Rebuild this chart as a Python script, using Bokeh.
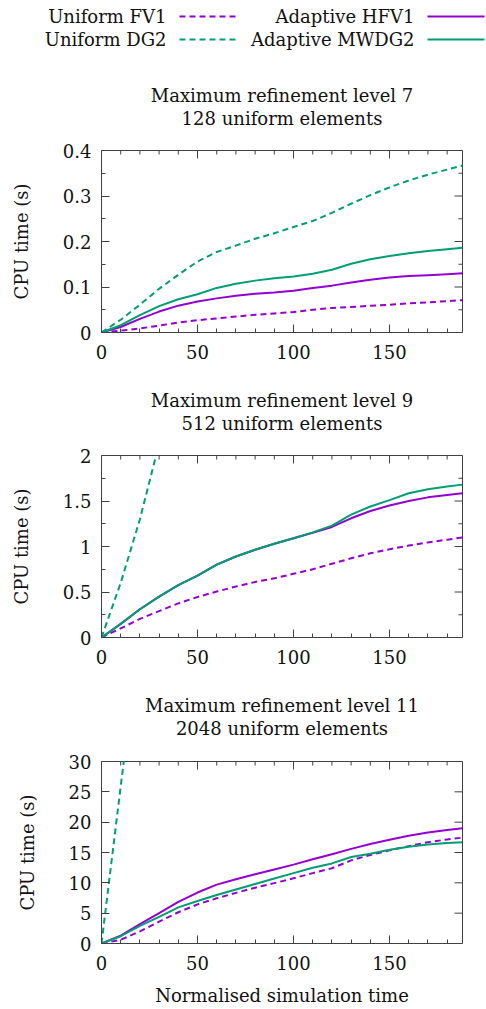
from bokeh.plotting import figure
from bokeh.layouts import column
from bokeh.models import Range1d, FixedTicker, Label
from bokeh.embed import file_html
from bokeh.resources import INLINE

FONT = "DejaVu Serif"
PURPLE = "#9400D3"
GREEN = "#009E73"
INK = "#111111"
FRAME = "#404040"

# ---------------- data ----------------
series_names = ["Uniform FV1", "Uniform DG2", "Adaptive HFV1", "Adaptive MWDG2"]
x_label = "Normalised simulation time"
y_label = "CPU time (s)"

x_ticks = [0, 50, 100, 150]
x_minor = [10, 20, 30, 40, 60, 70, 80, 90, 110, 120, 130, 140, 160, 170, 180]
x_max = 188

t = [0, 10, 20, 30, 40, 50, 60, 70, 80, 90, 100, 110, 120, 130, 140, 150, 160, 170, 180, 188]

# level 7
title_7 = ["Maximum refinement level 7", "128 uniform elements"]
y7_ticks = [0, 0.1, 0.2, 0.3, 0.4]
y7_labels = ["0", "0.1", "0.2", "0.3", "0.4"]
y7_minor = [0.05, 0.15, 0.25, 0.35]
fv1_7 = [0, 0.004, 0.009, 0.015, 0.022, 0.027, 0.031, 0.035, 0.039, 0.042, 0.045, 0.050, 0.054, 0.056, 0.059, 0.061, 0.064, 0.066, 0.069, 0.071]
dg2_7_t = t
dg2_7 = [0, 0.028, 0.061, 0.096, 0.127, 0.156, 0.177, 0.191, 0.206, 0.218, 0.232, 0.245, 0.263, 0.283, 0.302, 0.319, 0.334, 0.347, 0.358, 0.367]
hfv1_7 = [0, 0.012, 0.030, 0.046, 0.059, 0.068, 0.075, 0.081, 0.085, 0.088, 0.092, 0.098, 0.103, 0.110, 0.116, 0.121, 0.124, 0.126, 0.128, 0.130]
mwdg2_7 = [0, 0.016, 0.038, 0.058, 0.073, 0.084, 0.098, 0.107, 0.114, 0.119, 0.123, 0.129, 0.138, 0.151, 0.161, 0.168, 0.174, 0.179, 0.183, 0.186]

# level 9
title_9 = ["Maximum refinement level 9", "512 uniform elements"]
y9_ticks = [0, 0.5, 1, 1.5, 2]
y9_labels = ["0", "0.5", "1", "1.5", "2"]
y9_minor = [0.25, 0.75, 1.25, 1.75]
fv1_9 = [0, 0.10, 0.205, 0.29, 0.375, 0.445, 0.505, 0.56, 0.61, 0.65, 0.70, 0.75, 0.81, 0.87, 0.925, 0.97, 1.01, 1.045, 1.075, 1.10]
dg2_9_t = [0, 10, 20, 30]
dg2_9 = [0, 0.6, 1.3, 2.13]
hfv1_9 = [0, 0.15, 0.31, 0.45, 0.575, 0.68, 0.80, 0.89, 0.965, 1.03, 1.09, 1.15, 1.215, 1.31, 1.39, 1.45, 1.50, 1.54, 1.565, 1.585]
mwdg2_9 = [0, 0.15, 0.31, 0.45, 0.575, 0.68, 0.80, 0.89, 0.965, 1.03, 1.09, 1.155, 1.23, 1.35, 1.44, 1.51, 1.585, 1.63, 1.66, 1.68]

# level 11
title_11 = ["Maximum refinement level 11", "2048 uniform elements"]
y11_ticks = [0, 5, 10, 15, 20, 25, 30]
y11_labels = ["0", "5", "10", "15", "20", "25", "30"]
y11_minor = []
fv1_11 = [0, 0.6, 2.0, 3.6, 5.15, 6.45, 7.45, 8.35, 9.2, 9.95, 10.75, 11.6, 12.4, 13.7, 14.6, 15.35, 16.05, 16.7, 17.15, 17.45]
dg2_11_t = [0, 10, 12]
dg2_11 = [0, 25.9, 31.0]
hfv1_11 = [0, 1.3, 3.2, 5.0, 6.85, 8.4, 9.7, 10.6, 11.4, 12.2, 13.0, 13.9, 14.7, 15.6, 16.4, 17.1, 17.75, 18.3, 18.7, 19.0]
mwdg2_11 = [0, 1.2, 2.9, 4.4, 5.95, 7.0, 8.0, 8.9, 9.8, 10.7, 11.6, 12.5, 13.2, 14.25, 14.8, 15.45, 15.95, 16.3, 16.55, 16.7]

series_colors = [PURPLE, GREEN, PURPLE, GREEN]
series_dash = ["6 4", "6 4", "solid", "solid"]

# ---------------- layout constants (pixels) ----------------
W = 486
BORDER_L = 101
BORDER_R = 24
FRAME_W = W - BORDER_L - BORDER_R
FRAME_H = 182
FRAME_CX = BORDER_L + FRAME_W / 2
TICK_MAJOR = 8
TICK_MINOR = 4
LINE_GAP = 22.5


def strip(H):
    """A blank figure whose data coordinates are its own pixels (y downwards).
    frame_align=False keeps its frame full width instead of lining it up with the panels."""
    p = figure(width=W, height=H, x_range=Range1d(0, W), y_range=Range1d(H, 0),
               x_axis_type=None, y_axis_type=None, output_backend="svg",
               toolbar_location=None, min_border=0, frame_align=False)
    p.outline_line_color = None
    p.grid.visible = False
    return p


def add_text(p, x, y, text, align):
    p.add_layout(Label(x=x, y=y, text=text, text_align=align, text_baseline="middle",
                       text_font=FONT, text_font_size="18px", text_color=INK))


def add_title(p, lines, y_first):
    for i, line in enumerate(lines):
        add_text(p, FRAME_CX, y_first + i * LINE_GAP, line, "center")


def add_legend(p):
    text_right = [166, 166, 414, 414]
    row_y = [16, 39, 16, 39]
    for i in range(4):
        add_text(p, text_right[i], row_y[i], series_names[i], "right")
        x0 = text_right[i] + 13
        p.line(x=[x0, x0 + 57], y=[row_y[i], row_y[i]], line_color=series_colors[i],
               line_width=2, line_dash=series_dash[i])


def style_axis(ax):
    ax.axis_line_color = None
    ax.major_tick_in = TICK_MAJOR
    ax.major_tick_out = 0
    ax.minor_tick_in = TICK_MINOR
    ax.minor_tick_out = 0
    ax.major_tick_line_color = FRAME
    ax.minor_tick_line_color = FRAME
    ax.major_label_text_font = FONT
    ax.major_label_text_color = INK
    ax.major_label_text_font_size = "18px"
    ax.axis_label_text_font = FONT
    ax.axis_label_text_font_size = "18px"
    ax.axis_label_text_font_style = "normal"
    ax.axis_label_text_color = INK


def panel(y_ticks, y_labels, y_minor, curves, dg2_t, bottom, with_xlabel):
    top = 10
    ymax = y_ticks[-1]
    p = figure(width=W, height=top + FRAME_H + bottom, x_range=Range1d(0, x_max),
               y_range=Range1d(0, ymax), output_backend="svg", toolbar_location=None,
               min_border_left=BORDER_L, min_border_right=BORDER_R, min_border_top=top,
               min_border_bottom=bottom, frame_align=False)
    p.grid.visible = False
    p.outline_line_color = FRAME
    p.outline_line_width = 1

    p.xaxis.ticker = FixedTicker(ticks=x_ticks, minor_ticks=x_minor)
    p.yaxis.ticker = FixedTicker(ticks=y_ticks, minor_ticks=y_minor)
    for ax in p.xaxis + p.yaxis:
        style_axis(ax)
    p.xaxis.major_label_standoff = 12
    p.yaxis.major_label_standoff = 10
    p.yaxis.major_label_overrides = {float(v): s for v, s in zip(y_ticks, y_labels)}
    p.yaxis.axis_label = y_label
    p.yaxis.axis_label_standoff = 28
    if with_xlabel:
        p.xaxis.axis_label = x_label
        p.xaxis.axis_label_standoff = 12

    # mirrored inward ticks on the top and right edges of the frame
    dy_major = TICK_MAJOR * ymax / FRAME_H
    dy_minor = TICK_MINOR * ymax / FRAME_H
    dx_major = TICK_MAJOR * x_max / FRAME_W
    dx_minor = TICK_MINOR * x_max / FRAME_W
    p.segment(x0=x_ticks, y0=[ymax] * len(x_ticks), x1=x_ticks,
              y1=[ymax - dy_major] * len(x_ticks), line_color=FRAME, line_width=1)
    p.segment(x0=x_minor, y0=[ymax] * len(x_minor), x1=x_minor,
              y1=[ymax - dy_minor] * len(x_minor), line_color=FRAME, line_width=1)
    p.segment(x0=[x_max] * len(y_ticks), y0=y_ticks, x1=[x_max - dx_major] * len(y_ticks),
              y1=y_ticks, line_color=FRAME, line_width=1)
    if y_minor:
        p.segment(x0=[x_max] * len(y_minor), y0=y_minor, x1=[x_max - dx_minor] * len(y_minor),
                  y1=y_minor, line_color=FRAME, line_width=1)

    for i, ys in enumerate(curves):
        xs = dg2_t if i == 1 else t
        p.line(x=xs, y=ys, line_color=series_colors[i], line_width=2,
               line_dash=series_dash[i], line_join="round")
    return p


# header: legend + first title (page y 0..140)
head = strip(140)
add_legend(head)
add_title(head, title_7, 95)
p7 = panel(y7_ticks, y7_labels, y7_minor, [fv1_7, dg2_7, hfv1_7, mwdg2_7], dg2_7_t, 43, False)

s9 = strip(70)
add_title(s9, title_9, 25)
p9 = panel(y9_ticks, y9_labels, y9_minor, [fv1_9, dg2_9, hfv1_9, mwdg2_9], dg2_9_t, 43, False)

s11 = strip(71)
add_title(s11, title_11, 25)
p11 = panel(y11_ticks, y11_labels, y11_minor, [fv1_11, dg2_11, hfv1_11, mwdg2_11], dg2_11_t, 66, True)

layout = column(head, p7, s9, p9, s11, p11, spacing=0)
open("out.html", "w").write(file_html(layout, INLINE))
